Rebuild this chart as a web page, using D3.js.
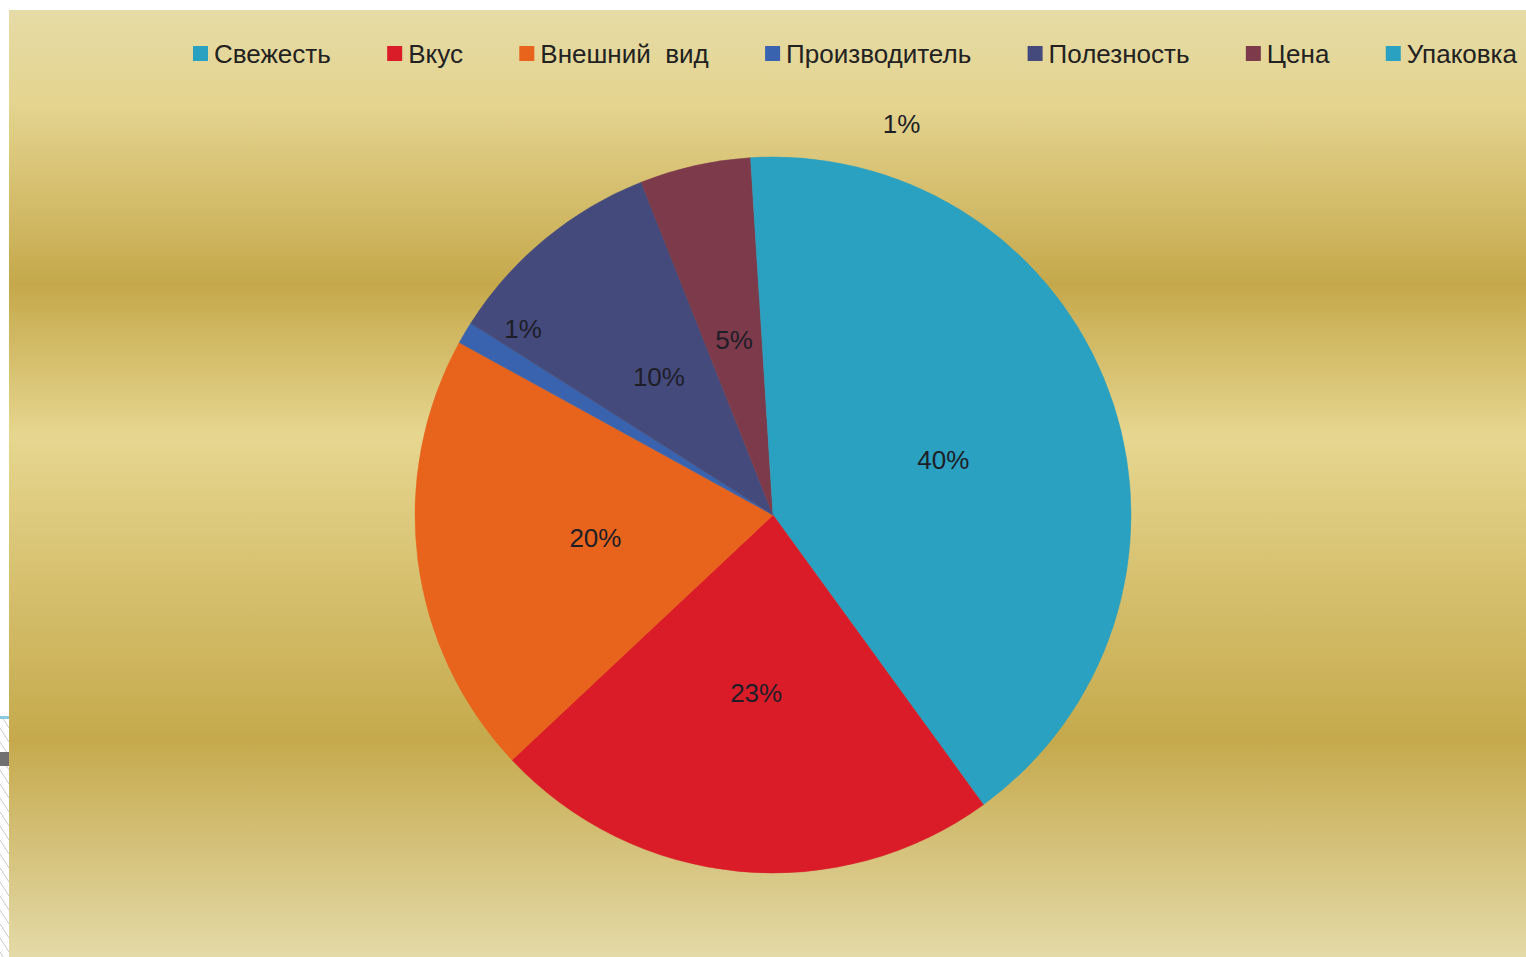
<!DOCTYPE html>
<html>
<head>
<meta charset="utf-8">
<script src="https://cdn.jsdelivr.net/npm/d3@7"></script>
<style>
  body { margin: 0; background: #fff; }
  svg { display: block; font-family: "Liberation Sans", Arial, sans-serif; }
</style>
</head>
<body>
<svg id="chart" width="1526" height="957"></svg>
<script>
// data
var categories = ["Свежесть", "Вкус", "Внешний  вид", "Производитель", "Полезность", "Цена", "Упаковка"];
var values = [40, 23, 20, 1, 10, 5, 1];
var colors = ["#2aa1c1", "#da1c29", "#e8641c", "#3a63af", "#454a7c", "#7d3a4b", "#2aa1c1"];

// nudges for the tiny slices whose labels got moved (angle in deg, radius factor)
var labelMove = { "Производитель": [6, 0.87], "Упаковка": [20, 1.15] };

var svg = d3.select("#chart");
var W = 1526, H = 957;

// gold background panel
var defs = svg.append("defs");
var grad = defs.append("linearGradient").attr("id", "gold")
  .attr("x1", 0).attr("y1", 0).attr("x2", 0).attr("y2", 1);
var stops = [[0, "#e6dba6"], [0.1, "#e4d48f"], [0.29, "#c5a84b"], [0.45, "#e6d68f"], [0.77, "#c5a94c"], [1, "#e4daa8"]];
stops.forEach(function(s){ grad.append("stop").attr("offset", s[0]).attr("stop-color", s[1]); });

var hatch = defs.append("pattern").attr("id", "hatch").attr("patternUnits", "userSpaceOnUse")
  .attr("width", 9).attr("height", 14);
hatch.append("path").attr("d", "M0,0 L9,14").attr("stroke", "#c8c8c8").attr("stroke-width", 1);

svg.append("rect").attr("x", 0).attr("y", 716).attr("width", 9).attr("height", H - 716).attr("fill", "url(#hatch)");
svg.append("rect").attr("x", 0).attr("y", 716).attr("width", 9).attr("height", 3).attr("fill", "#8cc8e0");
svg.append("rect").attr("x", 0).attr("y", 752).attr("width", 9).attr("height", 14).attr("fill", "#707070");

svg.append("rect").attr("x", 9).attr("y", 10).attr("width", W - 9).attr("height", H - 10).attr("fill", "url(#gold)");

// pie
var cx = 773, cy = 515, R = 358;
var pie = d3.pie().sort(null).value(function(d){ return d; });
var arcs = pie(values);
var arc = d3.arc().innerRadius(0).outerRadius(R);

var g = svg.append("g").attr("transform", "translate(" + cx + "," + cy + ")");
g.selectAll("path.slice").data(arcs).enter().append("path")
  .attr("class", "slice")
  .attr("d", arc)
  .attr("fill", function(d, i){ return colors[i]; })
  .attr("stroke", function(d, i){ return colors[i]; })
  .attr("stroke-width", 0.5);

// labels
g.selectAll("text.lbl").data(arcs).enter().append("text")
  .attr("class", "lbl")
  .attr("text-anchor", "middle")
  .attr("dy", "0.35em")
  .attr("font-size", 26)
  .attr("fill", "#1e1e28")
  .attr("transform", function(d, i){
    var mid = (d.startAngle + d.endAngle) / 2;
    var rr = R * 0.5;
    var mv = labelMove[categories[i]];
    if (mv) { mid = mid + mv[0] * Math.PI / 180; rr = R * mv[1]; }
    return "translate(" + (Math.sin(mid) * rr) + "," + (-Math.cos(mid) * rr) + ")";
  })
  .text(function(d){ return d.value + "%"; });

// legend
var legend = svg.append("g").attr("class", "legend");
var items = legend.selectAll("g").data(categories).enter().append("g");
items.append("rect").attr("width", 15).attr("height", 15).attr("y", 46)
  .attr("fill", function(d, i){ return colors[i]; });
items.append("text").attr("x", 21).attr("y", 63).attr("font-size", 26)
  .attr("fill", "#222").style("white-space", "pre")
  .text(function(d){ return d; });

var widths = [];
items.each(function(){ widths.push(21 + d3.select(this).select("text").node().getComputedTextLength()); });
var left = 193, right = 1517;
var gap = (right - left - d3.sum(widths)) / (categories.length - 1);
var x = left;
items.attr("transform", function(d, i){ var t = "translate(" + x + ",0)"; x += widths[i] + gap; return t; });
</script>
</body>
</html>
